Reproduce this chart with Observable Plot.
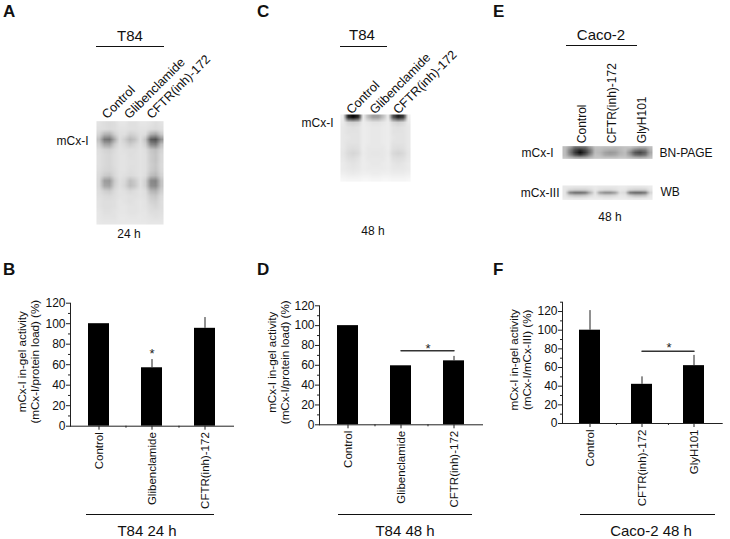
<!DOCTYPE html>
<html><head><meta charset="utf-8">
<script src="https://cdn.jsdelivr.net/npm/d3@7"></script>
<script src="https://cdn.jsdelivr.net/npm/@observablehq/plot@0.6"></script>
<style>
html,body{margin:0;padding:0;background:#fff}
#page{position:relative;width:730px;height:539px;overflow:hidden;font-family:"Liberation Sans",Arial,sans-serif;color:#111}
#page svg{position:absolute;left:0;top:0;background:transparent!important}
.t{position:absolute;white-space:nowrap;line-height:1}
.l{position:absolute;background:#111;height:1px}
.p{font-weight:bold;font-size:17px}
</style></head><body><div id="page"></div>
<script>
// ---------- bar chart values ----------
const catsB = ["Control","Glibenclamide","CFTR(inh)-172"];
const valsB = [100,57,95.5];
const errsB = [100,65,106];
const catsD = ["Control","Glibenclamide","CFTR(inh)-172"];
const valsD = [100,59.5,64.5];
const errsD = [100,59.5,69];
const catsF = ["Control","CFTR(inh)-172","GlyH101"];
const valsF = [100,42,62];
const errsF = [121,50,73];

// ---------- gel densitometry, darkness 0-100 ----------
const gelA = [
[11,13,14,13,10,10,12,12,10,10,11,13,11],
[12,13,14,13,11,11,12,12,11,11,13,14,12],
[16,28,30,18,12,12,18,16,12,13,30,34,20],
[24,52,55,32,13,19,28,23,13,23,64,68,42],
[18,34,36,20,12,15,20,16,12,18,46,50,25],
[13,17,18,14,11,12,13,13,11,13,22,25,17],
[12,15,16,13,11,11,13,12,11,12,20,23,15],
[12,15,16,13,11,11,12,12,11,12,20,23,15],
[12,15,16,13,11,11,12,12,11,12,19,22,14],
[13,16,17,14,11,11,13,12,11,12,20,23,15],
[14,20,22,15,11,12,14,13,11,13,25,28,17],
[15,38,40,20,12,15,25,20,12,18,46,48,23],
[15,34,36,18,12,16,26,21,12,18,44,46,23],
[13,18,20,14,11,12,15,13,11,13,28,30,18],
[12,14,15,13,11,11,12,12,11,12,20,22,14],
[11,13,13,12,10,11,12,11,10,11,17,18,13],
[11,13,13,12,10,10,11,11,10,11,14,16,13],
[10,12,12,11,10,10,11,11,10,10,13,13,12],
[10,11,11,11,9,9,10,10,9,10,11,12,11],
[9,10,10,10,9,9,9,9,9,9,10,10,10]];
const gelC = [
[6,85,98,85,7,26,38,38,24,7,68,88,78,6],
[8,16,18,16,7,9,11,11,9,7,15,18,15,8],
[9,11,12,11,7,8,9,9,8,7,11,12,11,9],
[9,11,11,11,7,8,9,9,8,7,11,11,11,9],
[9,10,11,11,7,8,9,9,8,7,10,11,11,9],
[9,11,11,11,7,8,9,9,8,7,11,11,11,9],
[9,12,13,12,7,9,9,9,9,7,12,13,12,9],
[10,14,16,14,8,9,10,10,9,8,15,17,15,10],
[9,12,13,11,7,9,9,9,9,7,12,13,12,9],
[8,10,11,10,7,8,9,9,8,7,10,11,10,8],
[8,9,10,9,7,8,8,8,8,7,9,9,9,8],
[6,7,8,7,6,6,7,7,6,6,7,7,7,6],
[3,4,4,4,3,3,4,4,3,3,4,4,4,3]];
const gelE1 = [
[26,38,58,60,58,40,24,24,26,26,28,26,24,24,30,34,34,26],
[26,50,72,84,72,52,26,26,30,32,32,28,24,34,50,56,52,30],
[26,52,78,94,78,54,26,28,36,40,38,30,26,44,66,72,62,34],
[26,46,66,76,64,44,24,26,34,36,34,28,26,38,56,60,54,30],
[22,28,34,36,34,28,22,22,24,24,24,22,22,26,30,32,30,24]];
const gelE2 = [
[9,9,10,10,10,9,8,9,9,9,9,8,8,9,10,10,9,8],
[10,16,18,18,18,14,9,12,14,14,12,9,10,16,18,18,18,10],
[10,48,56,56,52,30,10,36,44,44,36,12,14,52,58,58,52,16],
[10,18,22,22,20,14,9,14,16,16,14,9,10,18,24,24,22,10],
[8,9,10,10,9,8,8,8,9,9,8,8,8,9,10,10,9,8]];
const lanesAC = ["Control","Glibenclamide","CFTR(inh)-172"];
const lanesE = ["Control","CFTR(inh)-172","GlyH101"];

const W = 730, H = 539;
const font = {fontFamily:'"Liberation Sans",Arial,sans-serif', background:"transparent"};
const page = document.getElementById("page");

function gel(values, box, marks){
  const rows = values.length, cols = values[0].length;
  const p = Plot.plot({
    width:W, height:H, style:font,
    marginLeft:box.l, marginRight:W-box.r, marginTop:box.t, marginBottom:H-box.b,
    x:{domain:[0,cols],axis:null}, y:{domain:[0,rows],reverse:true,axis:null},
    color:{type:"linear",domain:[0,100],range:["#ffffff","#000000"]},
    marks:[
      Plot.raster(values.flat(),{width:cols,height:rows,x1:0,x2:cols,y1:0,y2:rows,fill:d=>d,imageRendering:"auto"}),
      ...marks(cols,rows)
    ]
  });
  page.appendChild(p);
}
const side = (txt,row,anchor,dx)=>Plot.text([txt],{y:()=>row,text:d=>d,frameAnchor:anchor,textAnchor:anchor==="left"?"end":"start",dx,fontSize:12,fill:"#111"});
const lanes = (names,cols,rotate,dx,dy,fs)=>Plot.text(names,{x:(d,i)=>(i+.5)*cols/names.length,text:d=>d,frameAnchor:"top",rotate,textAnchor:"start",dx,dy,fontSize:fs,fill:"#111"});

gel(gelA,{l:96,r:163,t:120.7,b:224},(c)=>[lanes(lanesAC,c,-45,-7,-8,12.6),side("mCx-I",3.9,"left",-8)]);
gel(gelC,{l:340,r:410,t:114,b:181},(c)=>[lanes(lanesAC,c,-45,-7,-6,12.6),side("mCx-I",1.75,"left",-7)]);
gel(gelE1,{l:562,r:652,t:145.7,b:158.3},(c)=>[lanes(lanesE,c,-90,0,-3,12),side("mCx-I",2.9,"left",-9),side("BN-PAGE",2.9,"right",7)]);
gel(gelE2,{l:562,r:652,t:185,b:199.3},()=>[side("mCx-III",2.8,"left",-3),side("WB",2.5,"right",8)]);

function bars(cats,vals,errs,box,opt){
  const rowsData = cats.map((c,i)=>({c,v:vals[i],e:errs[i]}));
  const step = (box.r-box.l)/3.02;
  const ytop = opt.top||120;
  const marks = [
    Plot.barY(rowsData,{x:"c",y:"v",fill:"#000"}),
    Plot.ruleX(rowsData.filter(d=>d.e>d.v),{x:"c",y1:"v",y2:"e",stroke:"#222"}),
    Plot.frame({anchor:"left",stroke:"#222"}),
    Plot.frame({anchor:"bottom",stroke:"#222"}),
    Plot.axisY({ticks:d3.range(0,121,20),tickSize:4,tickPadding:1,fontSize:12,label:null,stroke:"#222",fill:"#111"}),
    Plot.axisY({ticks:d3.range(10,ytop+1,20),tickSize:2,tickFormat:()=>"",label:null,stroke:"#222"}),
    Plot.axisX({tickRotate:-90,tickSize:4,tickPadding:2,fontSize:11.5,label:null,stroke:"#222",fill:"#111"}),
    Plot.axisX(cats.slice(0,2),{tickSize:2,tickFormat:()=>"",label:null,dx:step/2,stroke:"#222"}),
    Plot.text([opt.title],{text:d=>d,frameAnchor:"left",textAnchor:"middle",rotate:-90,dx:opt.titleDx,dy:-3,fontSize:11.6,lineHeight:1.12,fill:"#111"})
  ];
  if(opt.star) marks.push(Plot.text(["*"],{x:()=>opt.star.c,y:()=>opt.star.y,text:d=>d,dx:opt.star.dx||0,fontSize:13,fill:"#222"}));
  if(opt.link) marks.push(Plot.line(cats.slice(1),{x:d=>d,y:()=>opt.link,stroke:"#333"}));
  const p = Plot.plot({
    width:W,height:H,style:font,
    marginLeft:box.l,marginRight:W-box.r,marginTop:box.t,marginBottom:H-box.b,
    x:{domain:cats,padding:.6,paddingOuter:.31,axis:null},
    y:{domain:[0,ytop],axis:null},
    marks
  });
  page.appendChild(p);
}
const titleProt = "mCx-I in-gel activity\n(mCx-I/protein load) (%)";
const titleIII = "mCx-I in-gel activity\n(mCx-I/mCx-III) (%)";
bars(catsB,valsB,errsB,{l:70,r:233,t:302.7,b:425.7},{title:titleProt,titleDx:-42,star:{c:"Glibenclamide",y:71}});
bars(catsD,valsD,errsD,{l:319,r:482,t:305.3,b:424.3},{title:titleProt,titleDx:-41,star:{c:"Glibenclamide",y:77,dx:27},link:74.6});
bars(catsF,valsF,errsF,{l:562,r:721.7,t:301.7,b:423},{title:titleIII,titleDx:-42,top:130,star:{c:"CFTR(inh)-172",y:81,dx:27},link:77.5});

// ---------- surrounding labels ----------
const texts = [
 ["A",3,3,"p"],["C",257,3,"p"],["E",493,3,"p"],["B",3,261,"p"],["D",257,261,"p"],["F",493,261,"p"]
];
texts.forEach(([s,x,y,c])=>{const d=document.createElement("div");d.className="t "+c;d.textContent=s;d.style.left=x+"px";d.style.top=y+"px";page.appendChild(d);});
const centred = [
 ["T84",130,28,15],["T84",362,27,15],["Caco-2",601,27,15],
 ["24 h",129,228,12],["48 h",373,225,12],["48 h",610,211,12],
 ["T84 24 h",147,523,15],["T84 48 h",405,523,15],["Caco-2 48 h",651,523,15]
];
centred.forEach(([s,x,y,f])=>{const d=document.createElement("div");d.className="t";d.textContent=s;d.style.left=x+"px";d.style.top=y+"px";d.style.fontSize=f+"px";d.style.transform="translateX(-50%)";page.appendChild(d);});
const lines = [[96,164,46],[340,387,45.5],[566,637,45],[86,214,514],[338,472,514],[580,715,514]];
lines.forEach(([a,b,y])=>{const d=document.createElement("div");d.className="l";d.style.left=a+"px";d.style.width=(b-a)+"px";d.style.top=y+"px";page.appendChild(d);});
</script></body></html>
